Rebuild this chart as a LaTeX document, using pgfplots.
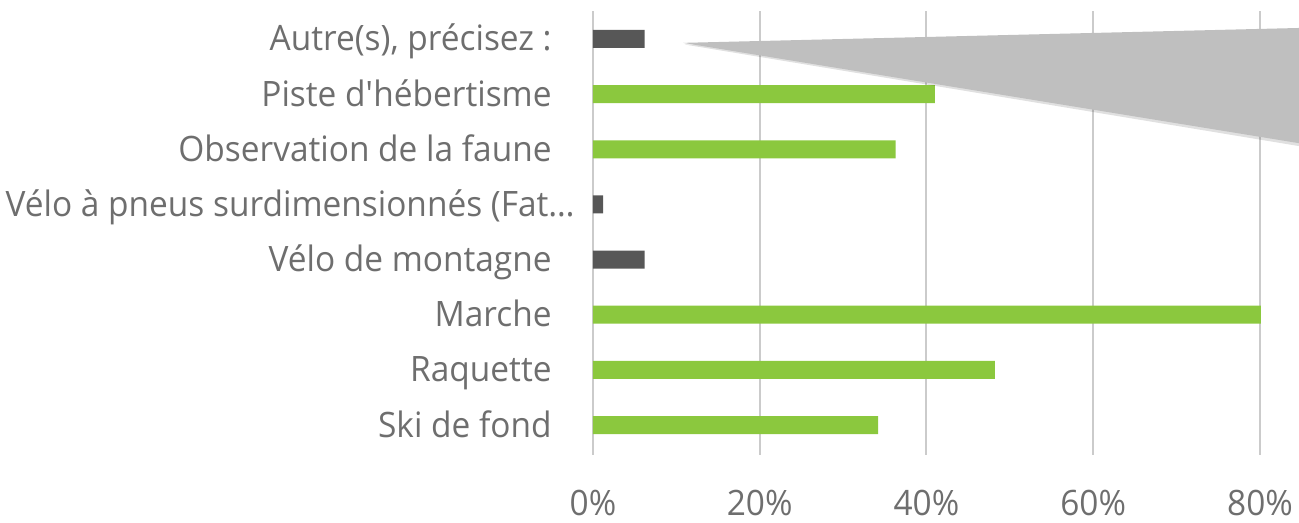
\documentclass[border=0pt]{standalone}
\usepackage{fontspec}
\setmainfont[FakeStretch=0.955]{Open Sans}
\usepackage{pgfplots}
\pgfplotsset{compat=1.18}

\definecolor{barGreen}{HTML}{8BC83E}
\definecolor{barGray}{HTML}{575757}
\definecolor{gridGray}{HTML}{CBCBCB}
\definecolor{txtGray}{HTML}{6E6E6E}
\definecolor{wedgeGray}{HTML}{BFBFBF}

\begin{document}
\begin{tikzpicture}
% picture frame: 1 px of the reference = 0.5pt
\path[use as bounding box] (-296.5pt,-34pt) rectangle (353pt,227.5pt);
\begin{axis}[
  at={(0,0)}, anchor=south west,
  scale only axis, width=333.5pt, height=222pt,
  xbar, bar width=9pt, bar shift=0pt,
  xmin=0, xmax=80, ymin=-0.544, ymax=7.508,
  axis line style={draw=none}, clip=false,
  xtick={0,20,40,60,80},
  xticklabels={0\%,20\%,40\%,60\%,80\%},
  ytick={0,1,2,3,4,5,6,7},
  yticklabels={Ski de fond, Raquette, Marche, Vélo de montagne,
    {Vélo à pneus surdimensionnés (Fat…\hspace*{-11.5pt}},
    Observation de la faune, Piste d\textquotesingle hébertisme, {Autre(s), précisez :}},
  major tick length=0pt, tick style={draw=none},
  xmajorgrids, ymajorgrids=false,
  grid style={gridGray, line width=1pt},
  xticklabel style={font=\fontsize{17.5}{21}\selectfont, text=txtGray,
    anchor=base, inner sep=0pt, yshift=-30.5pt},
  yticklabel style={font=\fontsize{17.5}{21}\selectfont, text=txtGray,
    anchor=base east, inner sep=0pt, xshift=-20.5pt, yshift=-6pt},
]
\addplot[fill=barGreen, draw=none] coordinates {
  (34.2,0) (48.2,1) (80.1,2) (36.3,5) (41.0,6)};
\addplot[fill=barGray, draw=none] coordinates {
  (6.2,3) (1.2,4) (6.2,7)};
% grey callout wedge over the plot
\fill[black, opacity=0.12] (axis cs:11.0,6.9) -- (axis cs:85,7.17) -- (axis cs:85,5.05) -- cycle;
\fill[wedgeGray] (axis cs:10.8,6.93) -- (axis cs:84.7,7.2) -- (axis cs:84.7,5.11) -- cycle;
\end{axis}
\end{tikzpicture}
\end{document}
